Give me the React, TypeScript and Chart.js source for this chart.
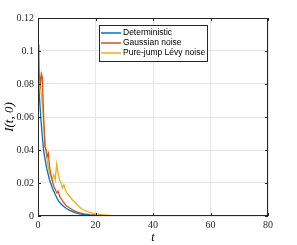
import React, { useEffect, useRef } from "react";
import { Chart, registerables } from "chart.js";

Chart.register(...registerables);

const tDet = [0, 0.5, 1, 1.5, 2, 3, 4, 5, 6, 7, 8, 9, 10, 11, 12, 13, 14, 15, 16, 18, 20, 25, 30, 80];
const detVals = [0.088, 0.072, 0.059, 0.048, 0.039, 0.029, 0.022, 0.017, 0.013, 0.0095, 0.0073, 0.0057, 0.0044, 0.0034, 0.0026, 0.002, 0.0015, 0.0012, 0.0009, 0.0005, 0.0003, 0.0001, 0, 0];

const tGauss = [0, 0.3, 0.8, 1.2, 1.5, 2, 2.4, 2.8, 3.2, 3.6, 4, 4.5, 5, 5.5, 6, 6.5, 7, 7.5, 8, 9, 10, 11, 12, 13, 14, 15, 16, 18, 20, 25, 30, 80];
const gaussVals = [0.104, 0.088, 0.08, 0.086, 0.084, 0.058, 0.042, 0.04, 0.036, 0.038, 0.03, 0.025, 0.021, 0.018, 0.016, 0.014, 0.015, 0.012, 0.0105, 0.008, 0.006, 0.0048, 0.0037, 0.0028, 0.0022, 0.0017, 0.0013, 0.0008, 0.0005, 0.0001, 0, 0];

const tLevy = [0, 0.5, 1, 1.6, 2, 2.4, 3, 3.5, 4, 4.5, 5, 5.5, 6, 6.5, 7, 7.5, 8, 8.5, 9, 9.5, 10, 11, 12, 13, 14, 15, 16, 17, 18, 19, 20, 22, 25, 30, 35, 80];
const levyVals = [0.1, 0.088, 0.076, 0.066, 0.056, 0.046, 0.036, 0.03, 0.026, 0.024, 0.022, 0.025, 0.022, 0.0315, 0.026, 0.022, 0.02, 0.017, 0.019, 0.016, 0.014, 0.012, 0.0097, 0.008, 0.0062, 0.0045, 0.0035, 0.0028, 0.0022, 0.0017, 0.0013, 0.0008, 0.0004, 0.0001, 0, 0];

const seriesLabels = ["Deterministic", "Gaussian noise", "Pure-jump Lévy noise"];
const seriesColors = ["#0072BD", "#D95319", "#EDB120"];

const xTicks = [0, 20, 40, 60, 80];
const yTicks = [0, 0.02, 0.04, 0.06, 0.08, 0.1, 0.12];

const toPts = (ts: number[], vs: number[]) => ts.map((t, i) => ({ x: t, y: vs[i] }));

const framePlugin = {
  id: "frame",
  afterDatasetsDraw(chart: any) {
    const { ctx, chartArea: a, scales } = chart;
    ctx.save();
    ctx.strokeStyle = "#262626";
    ctx.lineWidth = 1;
    ctx.strokeRect(a.left + 0.5, a.top + 0.5, a.right - a.left - 1, a.bottom - a.top - 1);
    ctx.beginPath();
    xTicks.forEach((v) => {
      const x = Math.round(scales.x.getPixelForValue(v)) + 0.5;
      ctx.moveTo(x, a.bottom);
      ctx.lineTo(x, a.bottom - 3);
      ctx.moveTo(x, a.top);
      ctx.lineTo(x, a.top + 3);
    });
    yTicks.forEach((v) => {
      const y = Math.round(scales.y.getPixelForValue(v)) + 0.5;
      ctx.moveTo(a.left, y);
      ctx.lineTo(a.left + 3, y);
      ctx.moveTo(a.right, y);
      ctx.lineTo(a.right - 3, y);
    });
    ctx.stroke();

    // legend
    const lx = 99, ly = 25, lw = 108, lh = 36;
    ctx.fillStyle = "#ffffff";
    ctx.fillRect(lx, ly, lw, lh);
    ctx.strokeStyle = "#262626";
    ctx.strokeRect(lx + 0.5, ly + 0.5, lw, lh);
    ctx.font = "8.5px 'Liberation Sans', Arial, sans-serif";
    ctx.textBaseline = "middle";
    seriesLabels.forEach((lab, i) => {
      const y = ly + 8 + i * 10;
      ctx.strokeStyle = seriesColors[i];
      ctx.lineWidth = 1.5;
      ctx.beginPath();
      ctx.moveTo(lx + 2, y);
      ctx.lineTo(lx + 22, y);
      ctx.stroke();
      ctx.fillStyle = "#000";
      ctx.fillText(lab, lx + 24, y);
    });

    // axis titles
    ctx.fillStyle = "#000";
    ctx.font = "italic 12px 'Liberation Serif', serif";
    ctx.textAlign = "center";
    ctx.textBaseline = "middle";
    ctx.fillText("t", (a.left + a.right) / 2, 238);
    ctx.save();
    ctx.translate(10, (a.top + a.bottom) / 2);
    ctx.rotate(-Math.PI / 2);
    ctx.font = "italic 13px 'Liberation Serif', serif";
    ctx.fillText("I(t, 0)", 0, 0);
    ctx.restore();
    ctx.restore();
  },
};

export default function App() {
  const ref = useRef<HTMLCanvasElement>(null);
  useEffect(() => {
    if (!ref.current) return;
    const tickFont = { family: "'Liberation Serif', serif", size: 10 };
    const chart = new Chart(ref.current, {
      type: "line",
      data: {
        datasets: [
          { label: seriesLabels[0], data: toPts(tDet, detVals), borderColor: seriesColors[0] },
          { label: seriesLabels[1], data: toPts(tGauss, gaussVals), borderColor: seriesColors[1] },
          { label: seriesLabels[2], data: toPts(tLevy, levyVals), borderColor: seriesColors[2] },
        ].map((d) => ({ ...d, borderWidth: 1.3, pointRadius: 0, tension: 0, fill: false })),
      },
      options: {
        animation: false,
        responsive: false,
        maintainAspectRatio: false,
        layout: { padding: { top: 18, right: 29, left: 0, bottom: 0 } },
        plugins: { legend: { display: false }, tooltip: { enabled: false } },
        scales: {
          x: {
            type: "linear",
            min: 0,
            max: 80,
            afterBuildTicks: (s: any) => { s.ticks = xTicks.map((v) => ({ value: v })); },
            afterFit: (s: any) => { s.height = 29; },
            ticks: { font: tickFont, color: "#262626", padding: 3, maxRotation: 0 },
            grid: { color: "#e6e6e6", drawTicks: false },
            border: { display: false },
          },
          y: {
            min: 0,
            max: 0.12,
            afterBuildTicks: (s: any) => { s.ticks = yTicks.map((v) => ({ value: v })); },
            afterFit: (s: any) => { s.width = 38; },
            ticks: { font: tickFont, color: "#262626", padding: 4, callback: (v: any) => String(Number(v.toFixed(2))) },
            grid: { color: "#e6e6e6", drawTicks: false },
            border: { display: false },
          },
        },
      },
      plugins: [framePlugin],
    });
    return () => chart.destroy();
  }, []);
  return (
    <div style={{ position: "fixed", left: 0, top: 0, width: 297, height: 245, background: "#fff" }}>
      <canvas ref={ref} width={297} height={245} style={{ width: 297, height: 245 }} />
    </div>
  );
}
